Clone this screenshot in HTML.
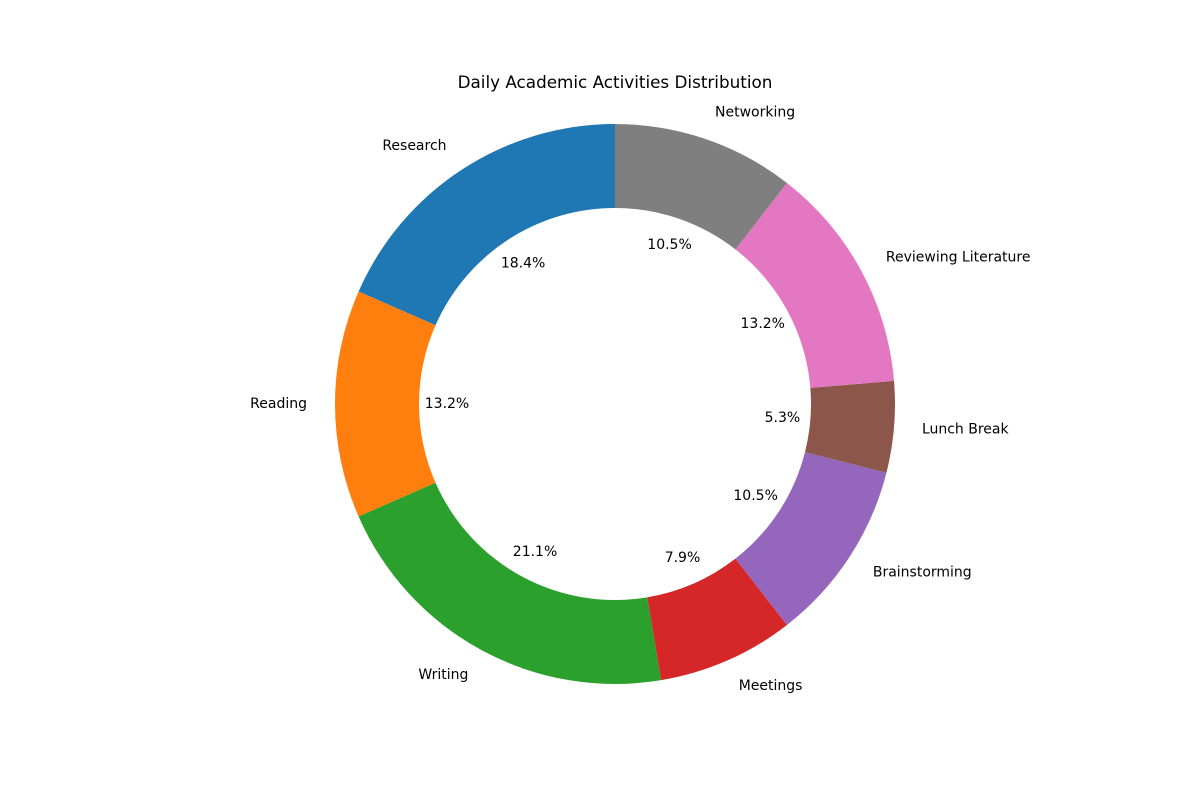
<!DOCTYPE html>
<html>
<head>
<meta charset="utf-8">
<style>
  html,body{margin:0;padding:0;background:#fff;}
  svg{display:block;font-family:"DejaVu Sans","Liberation Sans",sans-serif;}
</style>
</head>
<body>
<svg id="chart" width="1200" height="800" viewBox="0 0 1200 800">
  <rect width="1200" height="800" fill="#fff"></rect>
  <text x="615" y="88" text-anchor="middle" font-size="16.8" fill="#000">Daily Academic Activities Distribution</text>
  <g id="slices"></g>
  <g id="labels"></g>
</svg>
<script>
const categories = ["Research","Reading","Writing","Meetings","Brainstorming","Lunch Break","Reviewing Literature","Networking"];
const values = [7,5,8,3,4,2,5,4];
const colors = ["#1f77b4","#ff7f0e","#2ca02c","#d62728","#9467bd","#8c564b","#e377c2","#7f7f7f"];

const cx = 615, cy = 404, R = 280, r = 196;
const NS = "http://www.w3.org/2000/svg";
const total = values.reduce((a,b)=>a+b,0);
const gS = document.getElementById('slices');
const gL = document.getElementById('labels');

function pt(rad, deg){
  const a = deg*Math.PI/180;
  return [cx + rad*Math.cos(a), cy - rad*Math.sin(a)];
}

let start = 90;
values.forEach((v,i)=>{
  const sweep = v/total*360;
  const end = start + sweep;
  const large = sweep > 180 ? 1 : 0;
  const [x1,y1] = pt(R,start), [x2,y2] = pt(R,end);
  const [x3,y3] = pt(r,end), [x4,y4] = pt(r,start);
  const d = `M${x1},${y1} A${R},${R} 0 ${large} 0 ${x2},${y2} L${x3},${y3} A${r},${r} 0 ${large} 1 ${x4},${y4} Z`;
  const p = document.createElementNS(NS,'path');
  p.setAttribute('d', d);
  p.setAttribute('fill', colors[i]);
  
  
  gS.appendChild(p);

  const mid = start + sweep/2;
  const [lx,ly] = pt(R*1.1, mid);
  const t = document.createElementNS(NS,'text');
  t.setAttribute('x', lx);
  t.setAttribute('y', ly + 4);
  t.setAttribute('font-size', '14');
  t.setAttribute('text-anchor', lx < cx ? 'end' : 'start');
  t.textContent = categories[i];
  
  
  gL.appendChild(t);

  const [px,py] = pt(R*0.6, mid);
  const pt2 = document.createElementNS(NS,'text');
  pt2.setAttribute('x', px);
  pt2.setAttribute('y', py + 4);
  pt2.setAttribute('font-size', '14');
  pt2.setAttribute('text-anchor', 'middle');
  pt2.textContent = (v/total*100).toFixed(1) + '%';
  
  
  gL.appendChild(pt2);

  start = end;
});
</script>
</body>
</html>
